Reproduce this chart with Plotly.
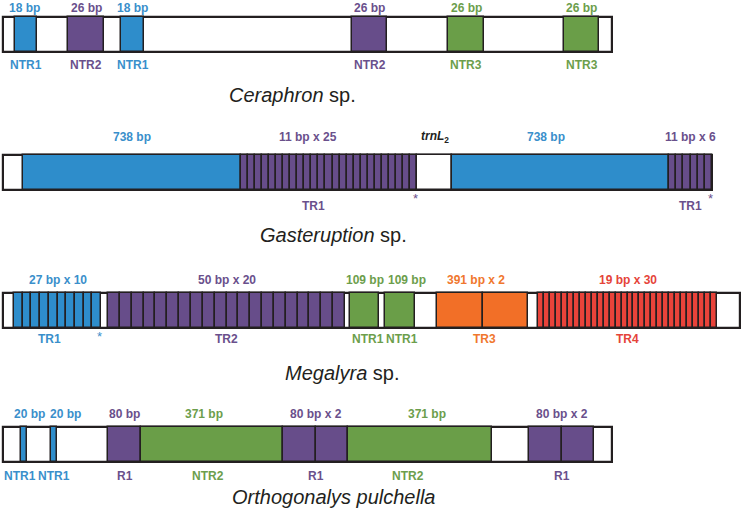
import plotly.graph_objects as go

# ---------------- data (diagram units along each mitochondrial region) ----------------
species = ["<i>Ceraphron</i> sp.", "<i>Gasteruption</i> sp.", "<i>Megalyra</i> sp.", "<i>Orthogonalys pulchella</i>"]

box_start = [3, 3, 3, 3]
box_end = [612, 712, 740, 612]

# Ceraphron sp.
cer_start = [15, 68, 121, 352, 448, 564]
cer_end = [37, 104, 144, 387, 484, 599]
cer_kind = ["blue", "purple", "blue", "purple", "green", "green"]
cer_units = [1, 1, 1, 1, 1, 1]
cer_top = ["18 bp", "26 bp", "18 bp", "26 bp", "26 bp", "26 bp"]
cer_bottom = ["NTR1", "NTR2", "NTR1", "NTR2", "NTR3", "NTR3"]
cer_star = [0, 0, 0, 0, 0, 0]

# Gasteruption sp.
gas_start = [23, 241, 417, 452, 669]
gas_end = [241, 417, 452, 669, 712]
gas_kind = ["blue", "purple", "blank", "blue", "purple"]
gas_units = [1, 25, 1, 1, 6]
gas_top = ["738 bp", "11 bp x 25", "<i>trnL</i><sub>2</sub>", "738 bp", "11 bp x 6"]
gas_bottom = ["", "TR1", "", "", "TR1"]
gas_star = [0, 1, 0, 0, 1]

# Megalyra sp.
meg_start = [14, 108, 350, 385, 437, 538]
meg_end = [101, 345, 379, 415, 528, 717]
meg_kind = ["blue", "purple", "green", "green", "orange", "red"]
meg_units = [10, 20, 1, 1, 2, 30]
meg_top = ["27 bp x 10", "50 bp x 20", "109 bp", "109 bp", "391 bp x 2", "19 bp x 30"]
meg_bottom = ["TR1", "TR2", "NTR1", "NTR1", "TR3", "TR4"]
meg_star = [1, 0, 0, 0, 0, 0]

# Orthogonalys pulchella
ort_start = [21, 51, 108, 141, 283, 348, 529]
ort_end = [27, 57, 141, 283, 348, 492, 594]
ort_kind = ["blue", "blue", "purple", "green", "purple", "green", "purple"]
ort_units = [1, 1, 1, 1, 2, 1, 2]
ort_top = ["20 bp", "20 bp", "80 bp", "371 bp", "80 bp x 2", "371 bp", "80 bp x 2"]
ort_bottom = ["NTR1", "NTR1", "R1", "NTR2", "R1", "NTR2", "R1"]
ort_star = [0, 0, 0, 0, 0, 0, 0]

# ---------------- styling / layout ----------------
FILL = {"blue": "#2E8DCB", "purple": "#674D8A", "green": "#6A9E48",
        "orange": "#F26F27", "red": "#E9433A", "blank": "#FFFFFF"}
TEXT = {"blue": "#3A8FCB", "purple": "#6A508C", "green": "#6C9E4C",
        "orange": "#F0772E", "red": "#E5443A", "blank": "#231F20"}
EDGE = "#231F20"
FONT = "Liberation Sans, Arial, sans-serif"

row_y = [34.5, 172, 310, 444]
bar_h = 35
top_dy = [-27, -35, -30, -30]
bot_dy = [30, 34, 29, 32]
species_pos = [(292, 95), (333, 235), (342, 373), (333, 497)]

top_shift = {(1, 1): -21, (1, 3): -15, (2, 3): 7, (2, 4): -7,
             (3, 0): 5, (3, 1): 11, (3, 3): -8, (3, 5): 7, (0, 0): -2}
bot_shift = {(1, 1): -16, (2, 0): -8, (2, 2): 3, (2, 3): 2, (2, 4): 2,
             (3, 0): -4, (3, 3): -4, (3, 5): -12}

rows = [
    (cer_start, cer_end, cer_kind, cer_units, cer_top, cer_bottom, cer_star),
    (gas_start, gas_end, gas_kind, gas_units, gas_top, gas_bottom, gas_star),
    (meg_start, meg_end, meg_kind, meg_units, meg_top, meg_bottom, meg_star),
    (ort_start, ort_end, ort_kind, ort_units, ort_top, ort_bottom, ort_star),
]

fig = go.Figure()
annotations = []

for r, (st, en, kd, un, tp, bt, sr) in enumerate(rows):
    y = row_y[r]
    # outer box
    fig.add_trace(go.Bar(orientation="h", y=[y], base=[box_start[r]],
                         x=[box_end[r] - box_start[r]], width=bar_h,
                         marker=dict(color="#FFFFFF", line=dict(color=EDGE, width=2.2)),
                         hoverinfo="skip", showlegend=False))
    bases, widths, colors = [], [], []
    for s, e, k, n in zip(st, en, kd, un):
        w = (e - s) / n
        for i in range(n):
            bases.append(s + i * w)
            widths.append(w)
            colors.append(FILL[k])
    fig.add_trace(go.Bar(orientation="h", y=[y] * len(bases), base=bases, x=widths,
                         width=bar_h, marker=dict(color=colors, line=dict(color=EDGE, width=1.5)),
                         hoverinfo="skip", showlegend=False))
    for i, (s, e, k, t, b, star) in enumerate(zip(st, en, kd, tp, bt, sr)):
        cx = (s + e) / 2
        if t:
            annotations.append(dict(x=cx + top_shift.get((r, i), 0), y=y + top_dy[r], text=f"<b>{t}</b>",
                                    showarrow=False, font=dict(family=FONT, size=12, color=TEXT[k])))
        if b:
            annotations.append(dict(x=cx + bot_shift.get((r, i), 0), y=y + bot_dy[r], text=f"<b>{b}</b>",
                                    showarrow=False, font=dict(family=FONT, size=12, color=TEXT[k])))
        if star:
            annotations.append(dict(x=e - 2, y=y + bar_h / 2 + 9, text="*",
                                    showarrow=False, font=dict(family=FONT, size=13, color=TEXT[k])))
    sx, sy = species_pos[r]
    annotations.append(dict(x=sx, y=sy, text=species[r], showarrow=False,
                            font=dict(family=FONT, size=20, color="#231F20")))

fig.update_layout(
    width=741, height=508, margin=dict(l=0, r=0, t=0, b=0),
    paper_bgcolor="white", plot_bgcolor="white", barmode="overlay",
    xaxis=dict(range=[0, 741], visible=False, fixedrange=True),
    yaxis=dict(range=[508, 0], visible=False, fixedrange=True),
    annotations=annotations, bargap=0,
)

fig.write_html("out.html", config={"displayModeBar": False},
               post_script="document.body.style.margin='0';document.body.style.padding='0';")
